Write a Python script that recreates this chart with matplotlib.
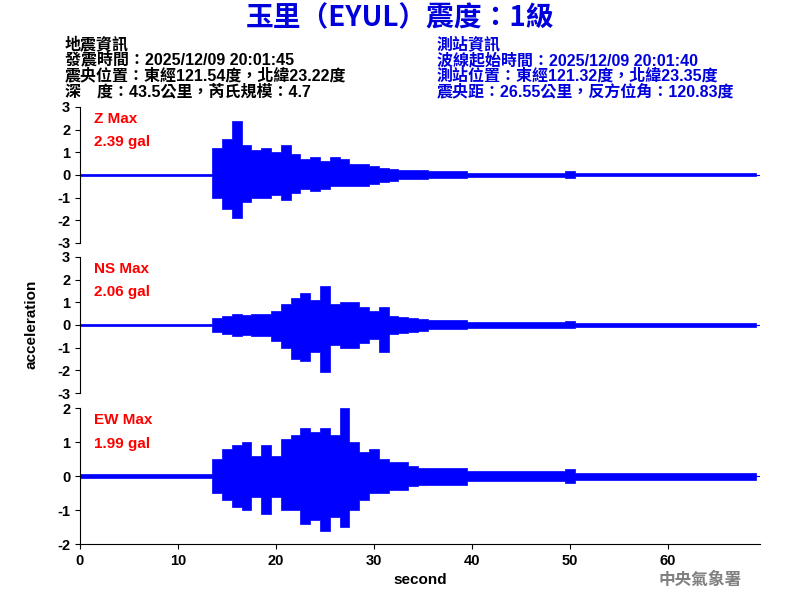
import matplotlib.pyplot as plt
import numpy as np

plt.rcParams['font.family'] = ['Liberation Sans', 'Noto Sans CJK TC', 'DejaVu Sans']

seconds = list(range(70))
z_up = [0.05]*14 + [1.2, 1.6, 2.39, 1.3, 1.1, 1.2, 1.0, 1.3, 0.9, 0.7, 0.8, 0.6, 0.8, 0.7, 0.5, 0.5,
        0.4, 0.3, 0.25, 0.2, 0.2, 0.2, 0.15, 0.15, 0.15, 0.15, 0.1, 0.1, 0.1, 0.1, 0.1, 0.1, 0.1, 0.1, 0.1, 0.1,
        0.15] + [0.07]*19
z_lo = [-0.05]*14 + [-1.0, -1.5, -1.9, -1.2, -1.0, -1.0, -0.9, -1.1, -0.8, -0.6, -0.7, -0.6, -0.5, -0.5, -0.5, -0.5,
        -0.4, -0.3, -0.25, -0.2, -0.2, -0.2, -0.15, -0.15, -0.15, -0.15, -0.1, -0.1, -0.1, -0.1, -0.1, -0.1, -0.1, -0.1, -0.1, -0.1,
        -0.15] + [-0.07]*19
ns_up = [0.04]*14 + [0.3, 0.4, 0.5, 0.45, 0.5, 0.5, 0.6, 0.9, 1.2, 1.4, 1.1, 1.7, 0.9, 1.0, 1.0, 0.8,
         0.6, 0.8, 0.4, 0.35, 0.3, 0.25, 0.2, 0.2, 0.2, 0.2, 0.12, 0.12, 0.12, 0.12, 0.12, 0.12, 0.12, 0.12, 0.12, 0.12,
         0.15] + [0.08]*19
ns_lo = [-0.04]*14 + [-0.3, -0.4, -0.5, -0.45, -0.5, -0.5, -0.7, -1.0, -1.5, -1.6, -1.2, -2.06, -0.9, -1.0, -1.0, -0.8,
         -0.6, -1.2, -0.4, -0.35, -0.3, -0.25, -0.2, -0.2, -0.2, -0.2, -0.12, -0.12, -0.12, -0.12, -0.12, -0.12, -0.12, -0.12, -0.12, -0.12,
         -0.15] + [-0.08]*19
ew_up = [0.05]*14 + [0.5, 0.8, 0.9, 1.0, 0.6, 0.9, 0.6, 1.1, 1.2, 1.4, 1.3, 1.4, 1.2, 1.99, 1.0, 0.7,
         0.8, 0.5, 0.4, 0.4, 0.3, 0.25, 0.25, 0.25, 0.25, 0.25, 0.15, 0.15, 0.15, 0.15, 0.15, 0.15, 0.15, 0.15, 0.15, 0.15,
         0.2] + [0.1]*19
ew_lo = [-0.05]*14 + [-0.5, -0.7, -0.9, -1.0, -0.6, -1.1, -0.6, -1.0, -1.0, -1.4, -1.3, -1.6, -1.2, -1.5, -1.0, -0.7,
         -0.5, -0.5, -0.4, -0.4, -0.3, -0.25, -0.25, -0.25, -0.25, -0.25, -0.15, -0.15, -0.15, -0.15, -0.15, -0.15, -0.15, -0.15, -0.15, -0.15,
         -0.2] + [-0.1]*19

panels = [("Z Max", "2.39 gal", z_up, z_lo, 3),
          ("NS Max", "2.06 gal", ns_up, ns_lo, 3),
          ("EW Max", "1.99 gal", ew_up, ew_lo, 2)]
rects = [[0.1, 0.595, 0.85, 0.227], [0.1, 0.345, 0.85, 0.227], [0.1, 0.093, 0.85, 0.227]]

fig = plt.figure(figsize=(8, 6), dpi=100)
for (name, val, up, lo, lim), r in zip(panels, rects):
    ax = fig.add_axes(r)
    ax.fill_between(seconds, lo, up, step='mid', color='blue', linewidth=0.5)
    ax.plot([0, 70], [0, 0], color='blue', lw=0.8)
    ax.set_xlim(0, 69.4)
    ax.set_ylim(-lim, lim)
    ax.set_yticks(range(-lim, lim + 1))
    ax.set_yticklabels([str(v) for v in range(-lim, lim + 1)])
    for s in ['top', 'right']:
        ax.spines[s].set_visible(False)
    ax.tick_params(labelsize=10.5)
    for t in ax.get_yticklabels():
        t.set_fontweight('bold')
    ax.text(0.02, 0.96, name, transform=ax.transAxes, color='red', fontsize=11, fontweight='bold', va='top')
    ax.text(0.02, 0.79, val, transform=ax.transAxes, color='red', fontsize=11, fontweight='bold', va='top')
    if name != "EW Max":
        ax.spines['bottom'].set_visible(False)
        ax.set_xticks([])
    else:
        ax.set_xticks(range(0, 70, 10))
        for t in ax.get_xticklabels():
            t.set_fontweight('bold')
        ax.set_xlabel("second", fontsize=11, fontweight='bold')

fig.text(0.04, 0.46, "acceleration", rotation=90, fontsize=11, fontweight='bold', va='center', ha='center')
fig.text(0.5, 0.97, "玉里（EYUL）震度：1級", color='#0000dd', fontsize=20, fontweight='bold', ha='center', va='center',
         family=['Noto Sans CJK TC', 'DejaVu Sans'])
left = ["地震資訊", "發震時間：2025/12/09 20:01:45", "震央位置：東經121.54度，北緯23.22度", "深　度：43.5公里，芮氏規模：4.7"]
right = ["測站資訊", "波線起始時間：2025/12/09 20:01:40", "測站位置：東經121.32度，北緯23.35度", "震央距：26.55公里，反方位角：120.83度"]
for i, (a, b) in enumerate(zip(left, right)):
    y = 1 - (44 + 16 * i) / 600
    fig.text(0.081, y, a, fontsize=11.5, fontweight='bold', va='center')
    fig.text(0.546, y, b, fontsize=11.5, fontweight='bold', va='center', color='#0000dd')
fig.text(0.875, 0.033, "中央氣象署", color='gray', fontsize=12, fontweight='bold', ha='center', va='center',
         family=['Noto Sans CJK TC', 'DejaVu Sans'])
fig.savefig("out.png", dpi=100)
